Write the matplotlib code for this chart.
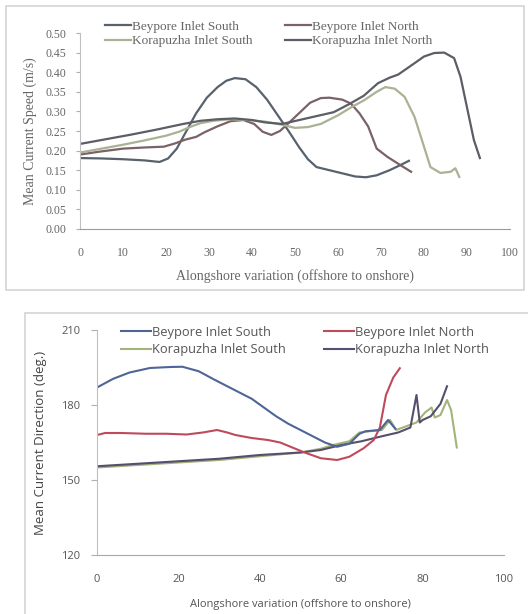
import matplotlib
matplotlib.use("Agg")
import matplotlib.pyplot as plt
from matplotlib.patches import Rectangle

# ---- mean current speed (m/s) along the shore ----
speedLabels = ["Beypore Inlet South", "Beypore Inlet North",
               "Korapuzha Inlet South", "Korapuzha Inlet North"]

bsSpeedX = [0, 5, 10, 15, 18.5, 20.5, 22.5, 24.5, 27, 29.5, 32, 34, 36, 38.5, 41, 43.5,
            46, 48.5, 51, 53, 55, 58, 61, 64, 66.5, 69, 72, 74.5, 76.5]
bsSpeed = [0.181, 0.180, 0.178, 0.175, 0.171, 0.180, 0.205, 0.245, 0.295, 0.335, 0.362,
           0.378, 0.385, 0.382, 0.362, 0.330, 0.290, 0.250, 0.208, 0.178, 0.158, 0.150,
           0.142, 0.134, 0.132, 0.137, 0.150, 0.163, 0.174]

bnSpeedX = [0, 5, 10, 15, 19.5, 22, 24.5, 27, 29, 32, 35, 38, 40.5, 42.5, 44.5, 46.5,
            48.5, 51, 53.5, 56, 58, 61, 63, 65, 67, 69, 71.5, 74.5, 77]
bnSpeed = [0.190, 0.198, 0.205, 0.208, 0.210, 0.218, 0.228, 0.235, 0.247, 0.262, 0.275,
           0.278, 0.268, 0.248, 0.240, 0.250, 0.270, 0.296, 0.322, 0.334, 0.335, 0.330,
           0.320, 0.295, 0.262, 0.205, 0.184, 0.163, 0.146]

ksSpeedX = [0, 5, 10, 15, 20, 23, 26, 28, 31, 35, 39, 43, 47, 50, 53, 56, 60, 63, 66,
            69, 71, 73.2, 75.5, 77.8, 80, 81.5, 83.8, 86.2, 87.3, 88.2]
ksSpeed = [0.195, 0.205, 0.215, 0.226, 0.238, 0.248, 0.262, 0.270, 0.276, 0.280, 0.278,
           0.274, 0.266, 0.258, 0.260, 0.268, 0.290, 0.310, 0.328, 0.350, 0.362, 0.358,
           0.337, 0.286, 0.210, 0.158, 0.143, 0.146, 0.155, 0.133]

knSpeedX = [0, 6, 12, 18, 24, 28, 32, 36, 40, 43, 47, 51, 55, 59, 62.5, 66, 69.3, 72,
            74, 77.8, 80, 82.4, 84.7, 87, 88.5, 90, 91.6, 93]
knSpeed = [0.217, 0.229, 0.241, 0.254, 0.268, 0.276, 0.280, 0.282, 0.278, 0.272, 0.268,
           0.278, 0.288, 0.298, 0.318, 0.340, 0.372, 0.386, 0.394, 0.423, 0.440, 0.449,
           0.450, 0.436, 0.388, 0.310, 0.227, 0.181]

speedTicks = [0.00, 0.05, 0.10, 0.15, 0.20, 0.25, 0.30, 0.35, 0.40, 0.45, 0.50]

# ---- mean current direction (deg.) along the shore ----
bsDirX = [0, 4, 8, 13, 18, 21, 25, 29, 32, 35, 38, 41, 44, 47, 50, 53, 56, 59, 62,
          64.5, 66, 69.5, 71.5, 73.3]
bsDir = [187, 190.5, 193, 194.8, 195.2, 195.3, 193.5, 190, 187.5, 185, 182.5, 179,
         175.5, 172.5, 170, 167.5, 165, 163.3, 164.5, 168.5, 169.5, 170, 174, 170.5]

bnDirX = [0, 2, 6, 12, 17, 22, 26, 29.5, 32, 34, 38, 42, 45, 48, 51, 55, 59, 62,
          65.5, 68, 69.5, 71, 72.8, 74.4]
bnDir = [168, 168.8, 168.8, 168.5, 168.5, 168.2, 169, 170, 169, 168, 166.8, 166, 165,
         163, 161, 158.7, 158, 159.3, 162.7, 166, 171, 184, 191, 194.7]

ksDirX = [0, 10, 20, 30, 40, 50, 55, 58, 62, 64.5, 67, 70, 72, 73.5, 76, 78.5, 80.6,
          82.2, 83, 84.4, 86, 87, 88.4]
ksDir = [155, 156, 157, 158, 159.5, 161, 162.5, 164, 165.5, 169, 169.5, 170, 174, 170,
         171.5, 173, 177, 179, 175, 176, 182, 178, 163]

knDirX = [0, 10, 20, 30, 40, 50, 55, 60, 65, 70, 74, 77, 78.5, 79.3, 80, 82, 84.4, 86]
knDir = [155.5, 156.5, 157.5, 158.5, 160, 161, 162, 164, 165.5, 167.5, 169, 171, 184,
         173, 174, 175.5, 180.5, 187.5]

dirTicks = [120, 150, 180, 210]

W, H = 528, 614
fig = plt.figure(figsize=(W / 100, H / 100), dpi=100)


def box(x0, y0, x1, y1):
    # pixel box (top-left origin) -> figure fraction [left, bottom, width, height]
    return [x0 / W, 1 - y1 / H, (x1 - x0) / W, (y1 - y0) / H]


# light frames around both panels
for b in (box(6, 6, 524, 290), box(25, 313, 540, 630)):
    fig.patches.append(Rectangle((b[0], b[1]), b[2], b[3], transform=fig.transFigure,
                                 fill=False, edgecolor="#d4d4d4", linewidth=1.2))

# top panel: speed
serif = "Liberation Serif"
grey = "#666666"
ax1 = fig.add_axes(box(80, 33, 510, 229))
speedColors = ["#58626c", "#7a6266", "#a9b294", "#5d5d66"]
ax1.plot(bsSpeedX, bsSpeed, color=speedColors[0], lw=1.6, label=speedLabels[0])
ax1.plot(bnSpeedX, bnSpeed, color=speedColors[1], lw=1.6, label=speedLabels[1])
ax1.plot(ksSpeedX, ksSpeed, color=speedColors[2], lw=1.6, label=speedLabels[2])
ax1.plot(knSpeedX, knSpeed, color=speedColors[3], lw=1.6, label=speedLabels[3])
ax1.set_xlim(0, 100)
ax1.set_ylim(0, 0.5)
ax1.set_yticks(speedTicks)
ax1.set_yticklabels(["%.2f" % t for t in speedTicks], fontfamily=serif, fontsize=8.5, color=grey)
ax1.set_xticks(range(0, 101, 10))
ax1.set_xticklabels([str(t) for t in range(0, 101, 10)], fontfamily=serif, fontsize=8.5, color=grey)
ax1.tick_params(axis="y", length=3, color="#b0b0b0", pad=7)
ax1.tick_params(axis="x", length=0, pad=13)
for s in ("top", "right"):
    ax1.spines[s].set_visible(False)
ax1.spines["left"].set_color("#c0c0c0")
ax1.spines["bottom"].set_color("#9a9a9a")
ax1.set_ylabel("Mean Current Speed (m/s)", fontfamily=serif, fontsize=10, color=grey, labelpad=6)
ax1.set_xlabel("Alongshore variation (offshore to onshore)", fontfamily=serif, fontsize=10,
               color=grey, labelpad=7)
h1, l1 = ax1.get_legend_handles_labels()
order1 = [0, 2, 1, 3]
leg1 = ax1.legend([h1[i] for i in order1], [l1[i] for i in order1], ncol=2,
                  loc="upper left", bbox_to_anchor=(0.03, 1.125), frameon=False,
                  prop={"family": serif, "size": 9.5}, handlelength=2.0, handletextpad=0.1,
                  columnspacing=2.4, labelspacing=0.2)
for t in leg1.get_texts():
    t.set_color(grey)

# bottom panel: direction
sans = ["Open Sans", "DejaVu Sans"]
ax2 = fig.add_axes(box(97, 330, 504, 555))
dirColors = ["#4f6596", "#bf4a5c", "#a3b479", "#574d6e"]
ax2.plot(ksDirX, ksDir, color=dirColors[2], lw=1.5, label=speedLabels[2])
ax2.plot(knDirX, knDir, color=dirColors[3], lw=1.5, label=speedLabels[3])
ax2.plot(bnDirX, bnDir, color=dirColors[1], lw=1.5, label=speedLabels[1])
ax2.plot(bsDirX, bsDir, color=dirColors[0], lw=1.5, label=speedLabels[0])
ax2.set_xlim(0, 100)
ax2.set_ylim(120, 210)
ax2.set_yticks(dirTicks)
ax2.set_yticklabels([str(t) for t in dirTicks], fontfamily=sans, fontsize=8, color="#555555")
ax2.set_xticks(range(0, 101, 20))
ax2.set_xticklabels([str(t) for t in range(0, 101, 20)], fontfamily=sans, fontsize=8, color="#555555")
ax2.tick_params(axis="y", length=4, color="#b0b0b0", pad=8)
ax2.tick_params(axis="x", length=0, pad=14)
for s in ("top", "right"):
    ax2.spines[s].set_visible(False)
ax2.spines["left"].set_color("#c0c0c0")
ax2.spines["bottom"].set_color("#a8a8a8")
ax2.set_ylabel("Mean Current Direction (deg.)", fontfamily=sans, fontsize=9.5, color="#444444",
               labelpad=10)
ax2.set_xlabel("Alongshore variation (offshore to onshore)", fontfamily=sans, fontsize=8,
               color="#555555", labelpad=10)
handles, labels = ax2.get_legend_handles_labels()
order = [3, 0, 2, 1]
leg2 = ax2.legend([handles[i] for i in order], [labels[i] for i in order], ncol=2,
                  loc="upper left", bbox_to_anchor=(0.03, 1.07), frameon=False,
                  prop={"family": sans, "size": 9.3}, handlelength=2.3, handletextpad=0.1,
                  columnspacing=3.0, labelspacing=0.35)
for t in leg2.get_texts():
    t.set_color("#555555")

fig.savefig("out.png", dpi=100)
